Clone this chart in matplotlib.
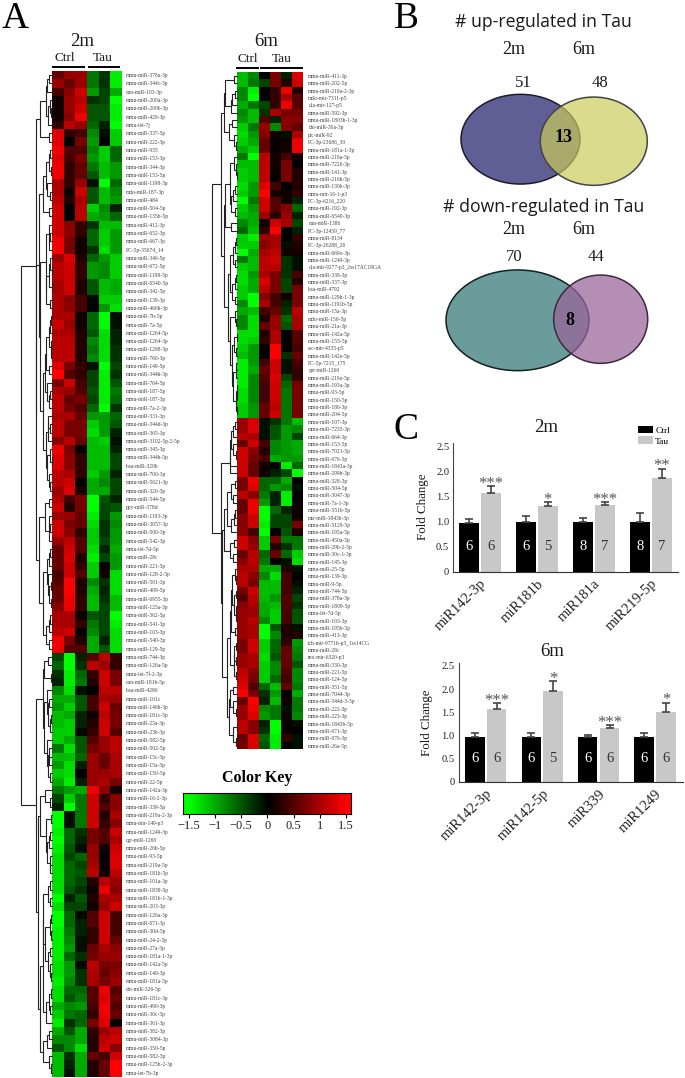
import numpy as np
import matplotlib
matplotlib.use('Agg')
import matplotlib.pyplot as plt
from matplotlib.colors import LinearSegmentedColormap, Normalize
from matplotlib.patches import Ellipse

plt.rcParams['font.family'] = ['Liberation Serif', 'DejaVu Serif']

W, H = 685, 1078

#-----------------------------------------------------------------------------
# heatmap 2m
labels_2m = ['mmu-miR-378a-3p','mmu-miR-344c-3p','cun-miR-103-3p','mmu-miR-200a-3p','mmu-miR-200b-3p','mmu-miR-429-3p','mmu-let-7j','mmu-miR-337-5p','mmu-miR-222-3p','mmu-miR-935',
 'mmu-miR-153-3p','mmu-miR-344-3p','mmu-miR-153-5p','mmu-miR-1198-3p','mdo-miR-187-3p','mmu-miR-484','mmu-miR-504-5p','mmu-miR-135b-5p','mmu-miR-412-3p','mmu-miR-652-3p',
 'mmu-miR-667-3p','PC-5p-35674_14','mmu-miR-346-5p','mmu-miR-672-5p','mmu-miR-1198-5p','mmu-miR-6540-5p','mmu-miR-342-5p','mmu-miR-139-3p','mmu-miR-466h-3p','mmu-miR-7b-5p',
 'mmu-miR-7a-5p','mmu-miR-1264-5p','mmu-miR-1264-3p','mmu-miR-1298-5p','mmu-miR-760-3p','mmu-miR-149-5p','mmu-miR-344h-3p','mmu-miR-764-5p','mmu-miR-187-5p','mmu-miR-187-3p',
 'mmu-miR-7a-2-3p','mmu-miR-331-3p','mmu-miR-344d-3p','mmu-miR-365-3p','mmu-miR-3102-5p.2-5p','mmu-miR-345-3p','mmu-miR-344b-5p','hsa-miR-320b','mmu-miR-700-3p','mmu-miR-5621-3p',
 'mmu-miR-320-3p','mmu-miR-544-5p','ppy-miR-378d','mmu-miR-1193-3p','mmu-miR-3057-3p','mmu-miR-500-3p','mmu-miR-542-3p','mmu-let-7d-5p','mmu-miR-28c','mmu-miR-221-5p',
 'mmu-miR-128-2-5p','mmu-miR-501-3p','mmu-miR-409-5p','mmu-miR-6955-3p','mmu-miR-125a-3p','mmu-miR-362-5p','mmu-miR-541-3p','mmu-miR-103-3p','mmu-miR-540-3p','mmu-miR-129-5p',
 'mmu-miR-744-3p','mmu-miR-126a-5p','mmu-let-7f-2-3p','cun-miR-181b-5p','hsa-miR-4286','mmu-miR-101c','mmu-miR-146b-3p','mmu-miR-181c-5p','mmu-miR-23a-3p','mmu-miR-23b-3p',
 'mmu-miR-582-5p','mmu-miR-502-5p','mmu-miR-15c-5p','mmu-miR-15a-5p','mmu-miR-150-5p','mmu-miR-22-5p','mmu-miR-142a-3p','mmu-miR-16-2-3p','mmu-miR-339-5p','mmu-miR-219a-2-3p',
 'mmu-mir-149-p3','mmu-miR-1249-3p','cgr-miR-1260','mmu-miR-26b-5p','mmu-miR-93-5p','mmu-miR-219a-5p','mmu-miR-181b-5p','mmu-miR-101a-3p','mmu-miR-1839-5p','mmu-miR-181b-1-3p',
 'mmu-miR-203-3p','mmu-miR-126a-3p','mmu-miR-671-3p','mmu-miR-30d-5p','mmu-miR-24-2-5p','mmu-miR-27a-5p','mmu-miR-181a-1-3p','mmu-miR-142a-5p','mmu-miR-140-3p','mmu-miR-181a-5p',
 'chi-miR-326-5p','mmu-miR-181c-3p','mmu-miR-490-3p','mmu-miR-30c-5p','mmu-miR-361-3p','mmu-miR-382-3p','mmu-miR-3084-3p','mmu-miR-350-5p','mmu-miR-582-3p','mmu-miR-125b-2-3p','mmu-let-7b-3p']

vals_2m = [
 [.6,.9,.9,-.7,-.3,-1.4],[.9,.6,.9,-.7,-.3,-1.4],[.4,.8,1.2,-.9,-.4,-1.0],[.1,.9,1.1,-.3,-.4,-1.5],[.1,.9,1.2,-.5,-.5,-1.4],
 [.1,.8,1.4,-.5,-.5,-1.4],[.3,1.1,.9,-.6,-.2,-1.5],[1.3,.3,.4,-.8,-.1,-1.2],[1.3,0,.7,-.9,0,-1.2],[1.4,.5,.5,-.8,-1.2,-.6],
 [1.3,.4,.7,-.9,-1.2,-.6],[1.4,.3,.6,-.7,-1.1,-.9],[1.4,.3,.6,-.5,-1.1,-.9],[1.0,.3,.9,-.1,-1.5,-.6],[1.0,.1,1.2,-.5,-1.1,-.8],
 [1.1,.2,1.0,-.5,-1.1,-.9],[1.2,0,1.1,-1.2,-.8,-.2],[1.2,0,1.1,-1.0,-.9,-.6],[1.2,.8,.3,-.3,-1.1,-1.1],[1.2,.8,.3,-.6,-1.2,-.9],
 [1.4,.7,.1,-.6,-1.2,-.9],[1.4,.7,.1,-.3,-1.3,-.9],[.9,1.3,.2,-.6,-.9,-1.2],[1.1,1.2,.3,-.9,-.8,-1.2],[1.1,1.2,.3,-.9,-.8,-1.2],
 [1.0,1.2,.2,-.5,-1.1,-1.0],[1.0,1.2,.2,-.5,-1.1,-1.0],[1.0,.8,.4,-.05,-1.2,-1.2],[1.0,.8,.4,0,-.9,-1.3],[1.0,1.0,.1,-.6,-1.5,-.1],
 [1.2,.9,.1,-.6,-1.5,-.1],[1.0,1.0,.2,-.5,-1.3,-.2],[1.1,1.1,.2,-.8,-1.3,-.2],[1.1,1.1,.2,-.7,-1.3,-.3],[1.1,1.1,.2,-.8,-1.3,-.3],
 [1.3,.7,.3,-.1,-1.5,-.4],[1.5,.5,.3,-.4,-1.4,-.3],[.7,1.2,.4,-.4,-1.4,-.5],[1.0,.9,.5,-.5,-1.4,-.7],[1.1,.6,.7,-.4,-1.4,-.6],
 [1.1,.7,.5,-.6,-1.5,-.3],[1.0,1.0,.6,-.9,-.9,-.6],[1.1,.7,.7,-1.2,-.9,-.5],[1.1,.7,.7,-1.3,-.9,-.2],[.8,1.1,.6,-1.1,-1.2,-.1],
 [1.4,.7,.05,-1.1,-1.1,-.2],[1.3,.8,.3,-1.1,-1.1,-.4],[1.3,.8,.3,-1.1,-1.1,-.4],[1.1,1.0,.3,-1.2,-.9,-.2],[1.1,1.2,0,-1.0,-.8,-.4],
 [.9,1.3,.2,-1.0,-1.0,-.4],[1.0,.4,.7,-1.5,-.5,-.2],[1.2,.2,.7,-1.5,-.4,-.5],[.9,.9,.6,-1.4,-.4,-.9],[1.2,.7,.6,-1.3,-.3,-.8],
 [1.2,.8,.3,-1.2,-.3,-.9],[.9,1.1,.5,-1.2,-.4,-.9],[.6,1.2,.5,-1.3,-.2,-1.0],[.6,1.3,.2,-1.4,-.4,-.9],[.6,1.2,.3,-1.2,.05,-.9],
 [.4,1.2,.5,-1.2,.1,-1.3],[.5,1.5,.2,-.8,-.3,-1.3],[.6,1.5,.2,-1.0,-.2,-1.3],[.6,1.4,.3,-1.1,-.3,-1.1],[.8,1.4,.3,-1.1,-.4,-1.1],
 [1.0,1.0,.1,-.5,-.4,-1.5],[1.0,1.0,.3,-.7,-.4,-1.4],[1.1,1.2,0,-.8,-.4,-1.3],[1.4,.7,.2,-1.0,-.2,-1.3],[1.4,.5,.5,-1.0,-.5,-1.3],
 [-.4,-1.5,-.2,.5,1.1,.3],[-.6,-1.5,-.3,1.1,.9,.3],[-.3,-1.4,-.6,.3,1.2,.7],[-.2,-1.4,-.7,.2,1.2,.7],[-.8,-1.3,-.1,0,1.1,1.1],
 [-1.0,-1.0,-.5,.4,1.0,.9],[-.9,-1.2,-.5,.4,1.2,.6],[-1.1,-1.0,-.2,.1,1.1,.7],[-1.1,-1.2,-.2,.2,1.2,.7],[-1.2,-1.2,-.05,.3,1.2,.5],
 [-1.2,-1.0,-.5,.5,.9,1.1],[-.7,-1.3,-.5,.7,.9,1.1],[-1.1,-1.1,-.6,.9,.6,1.0],[-.9,-1.3,-.2,.9,.6,1.0],[-1.2,-1.3,0,.9,.9,1.0],
 [-1.0,-1.4,-.2,.9,1.0,.7],[-.7,-.9,-1.0,1.4,.8,.1],[-.4,-1.2,-.7,1.2,.3,.8],[-.2,-1.5,-.7,1.2,.5,.8],[-1.5,-.1,-.7,1.2,.2,1.0],
 [-1.5,-.1,-.7,1.2,.3,.8],[-1.4,-.6,-.3,.7,.5,1.2],[-1.5,-.6,-.2,.7,.5,1.0],[-1.4,-.5,-.1,.9,.1,1.2],[-1.3,-.4,-.6,.9,.05,1.3],
 [-1.3,-.6,-.4,1.0,.05,1.3],[-1.3,-.6,-.5,1.1,.1,1.1],[-1.3,-.6,-.4,.2,1.1,.9],[-1.3,-.5,-.3,.1,1.4,.8],[-1.5,-.2,-.5,.2,1.0,1.0],
 [-1.3,-.4,-.4,.1,.9,1.2],[-1.5,-.6,-.05,.5,1.2,.4],[-1.5,-.6,-.2,.5,1.2,.4],[-1.4,-.7,-.2,.3,1.2,.4],[-1.4,-.8,-.1,.3,1.2,.6],
 [-1.4,-.9,-.1,.6,1.0,.8],[-1.4,-.6,-.3,.7,.9,.9],[-1.3,-.9,-.05,1.1,.7,.7],[-1.3,-.9,-.3,1.0,.6,.8],[-1.4,-.8,-.3,1.0,.7,.9],
 [-1.3,-.6,-.6,.5,1.4,.5],[-1.3,-.5,-.7,.5,1.3,.6],[-1.0,-.8,-.9,.4,1.4,.5],[-1.2,-.7,-.6,.3,1.4,.6],[-1.4,-.3,-.6,.7,1.3,.05],
 [-1.0,-.5,-1.0,.3,.9,1.1],[-.8,-.8,-1.0,.2,1.1,1.2],[-.5,-.8,-1.3,.2,1.2,.8],[-1.1,-.3,-1.0,.6,.4,1.2],[-1.1,-.2,-1.0,.2,.6,1.5],
 [-1.1,-.1,-1.0,.2,.6,1.5]]

#-----------------------------------------------------------------------------
# heatmap 6m
labels_6m = ['mmu-miR-411-3p','mmu-miR-202-5p','mmu-miR-219a-2-3p','mdo-mir-7311-p5','ola-mir-127-p5','mmu-miR-592-3p','mmu-miR-1803b-1-3p','chi-miR-30a-3p','ptc-miR-92','PC-3p-23686_30',
 'mmu-miR-181a-1-3p','mmu-miR-216a-5p','mmu-miR-7226-3p','mmu-miR-141-3p','mmu-miR-216b-5p','mmu-miR-130b-3p','mmu-mir-16-1-p3','PC-3p-6216_220','mmu-miR-192-3p','mmu-miR-6540-3p',
 'cun-miR-1386','PC-3p-12459_77','mmu-miR-8134','PC-3p-26288_26','mmu-miR-669o-3p','mmu-miR-1249-3p','ola-mir-9277-p3_2ss17AC18GA','mmu-miR-338-3p','mmu-miR-337-3p','hsa-miR-4792',
 'mmu-miR-129b-1-3p','mmu-miR-1191b-5p','mmu-miR-15a-3p','mdo-miR-150-5p','mmu-miR-21a-3p','mmu-miR-142a-5p','mmu-miR-155-5p','ssc-mir-4335-p5','mmu-miR-142e-5p','PC-5p-7215_175',
 'cpr-miR-1260','mmu-miR-219a-5p','mmu-miR-193a-3p','mmu-miR-93-5p','mmu-miR-150-5p','mmu-miR-186-3p','mmu-miR-204-5p','mmu-miR-107-3p','mmu-miR-7235-3p','mmu-miR-664-3p',
 'mmu-miR-153-5p','mmu-miR-7021-5p','mmu-miR-676-5p','mmu-miR-1843a-3p','mmu-miR-299b-3p','mmu-miR-328-3p','mmu-miR-504-5p','mmu-miR-3047-3p','mmu-miR-7a-1-3p','mmu-miR-551b-5p',
 'mir-miR-1843b-3p','mmu-miR-5129-5p','mmu-miR-195a-5p','mmu-miR-450a-5p','mmu-miR-29b-2-5p','mmu-miR-30c-1-3p','mmu-miR-145-3p','mmu-miR-25-5p','mmu-miR-139-3p','mmu-miR-9-5p',
 'mmu-miR-744-5p','mmu-miR-378a-3p','mmu-miR-1809-5p','mmu-let-7d-5p','mmu-miR-103-3p','mmu-miR-195b-5p','mmu-miR-413-3p','ich-mir-9771b-p5_1ss14CG','mmu-miR-28c','rno-mir-6320-p3',
 'mmu-miR-330-3p','mmu-miR-221-5p','mmu-miR-124-5p','mmu-miR-351-5p','mmu-miR-7044-3p','mmu-miR-344d-3-5p','mmu-miR-222-3p','mmu-miR-223-3p','mmu-miR-1843b-5p','mmu-miR-671-3p',
 'mmu-miR-676-3p','mmu-miR-26a-5p']

vals_6m = [
 [-1.1,-.8,0,.7,-.2,1.3],[-1.1,-.7,-.4,.7,.2,1.2],[-.8,-1.4,0,.3,1.4,.2],[-.8,-1.5,0,.3,1.0,.5],[-1.0,-.7,-.4,.3,1.4,.5],
 [-.8,-1.1,-.3,1.0,.7,.7],[-.9,-1.1,.5,-.2,.8,.8],[-1.2,-.7,.9,-.8,.8,.6],[-1.3,-.9,.8,.1,-.1,1.0],[-1.2,-1.0,.6,.05,.1,1.4],
 [-1.0,-1.2,.6,.05,.1,1.4],[-.7,-1.5,1.1,.1,.4,.1],[-1.1,-1.1,1.1,.1,.7,0],[-1.2,-1.1,1.1,.05,.7,.2],[-1.2,-1.1,1.1,.05,.7,.2],
 [-1.3,-.9,1.3,.4,0,.2],[-1.2,-.9,1.5,.1,.1,.3],[-1.5,-.7,1.2,.5,.1,-.2],[-1.2,-.9,1.2,.5,.8,-.6],[-1.1,-1.0,.9,.2,.9,-.2],
 [-.8,-1.0,.1,1.2,1.0,-.4],[-.6,-1.1,.3,1.5,0,-.2],[-1.2,-1.4,.9,1.0,0,.3],[-1.2,-1.2,.8,1.0,-.1,.2],[-1.5,-1.0,1.0,1.1,.1,.1],
 [-.7,-1.1,1.1,1.2,-.3,-.1],[-1.2,-1.1,1.1,1.1,-.3,-.1],[-1.3,-.9,1.0,.7,-.3,.4],[-1.3,-1.0,1.3,.7,-.4,.2],[-1.2,-1.0,1.1,.7,-.4,.7],
 [-1.2,-1.5,.8,.4,.1,.7],[-.8,-1.5,1.0,.4,-.2,.7],[-1.0,-1.1,.4,.6,-.3,1.1],[-.8,-1.3,.2,.9,-.6,1.0],[-.8,-1.3,.6,.9,-.5,1.0],
 [-1.3,-1.3,.2,1.0,0,.5],[-1.3,-1.2,.3,1.0,0,.5],[-1.2,-.9,0,1.5,0,.4],[-1.1,-.9,0,1.5,-.3,.6],[-1.4,-.9,.4,1.2,-.1,.4],
 [-1.4,-1.0,.6,1.2,-.1,.3],[-1.4,-.8,.5,1.3,-.4,.3],[-1.4,-.8,.4,1.2,-.6,.7],[-1.3,-.8,.4,1.2,-.7,.7],[-1.3,-.8,.4,1.2,-.7,.7],
 [-1.2,-.9,.6,1.1,-.7,.7],[-1.2,-.9,.6,1.2,-.7,.7],[.9,1.3,-.1,-.3,-.7,-1.1],[.9,1.3,-.1,-.5,-.9,-.8],[1.1,1.0,-.1,-.5,-.9,-.4],
 [.6,1.2,.4,-.8,-.9,-1.0],[1.2,.8,.2,-.8,-.9,-1.0],[1.2,.7,.4,-1.0,-.9,-.9],[1.2,.6,.1,0,-1.4,-.6],[1.2,.6,.1,-.2,-.4,-1.5],
 [.7,1.4,-.6,-.6,-1.0,0],[.7,1.3,-.6,-.9,-.8,-.1],[1.1,.8,-.7,-.2,-1.4,0],[.6,1.4,-.9,-.2,-1.4,.05],[.6,1.4,-1.5,-.6,-.2,.1],
 [.8,1.2,-1.5,-.4,-.4,.1],[.8,1.2,-1.4,-.4,-.4,.7],[.8,.4,-1.5,0,-.5,.2],[1.2,.8,-1.2,.7,-.7,-.7],[1.2,.9,-1.2,.2,-.3,-.7],
 [.6,1.1,-.6,.6,-.6,-1.2],[.8,1.1,-.7,0,-.1,-1.3],[1.0,1.0,-1.0,-1.0,.2,-.1],[1.1,.8,-.8,-1.3,.4,0],[1.1,.7,-1.1,-1.1,.4,-.1],
 [.7,1.2,-1.1,-1.1,.4,-.2],[.5,1.1,-1.1,-.9,.5,-.4],[.8,1.0,-1.0,-1.1,.5,-.3],[.9,.9,-1.0,-1.2,.4,-.5],[.9,1.1,-.8,-1.2,.4,-.5],
 [.9,1.0,-1.5,-.5,.2,-.1],[.9,1.0,-1.5,-.8,.2,.2],[.7,1.2,-1.2,-.6,.3,-.9],[.7,1.2,-1.2,-.6,.6,-.8],[.9,1.0,-1.3,-.5,.6,-.7],
 [.9,1.0,-1.2,-.8,.6,-.5],[1.1,.8,-1.2,-.8,.5,-.8],[1.2,.7,-1.2,-.6,.4,-.8],[1.3,.5,-.6,-1.1,.6,-.7],[1.5,.7,-.3,-.9,0,-1.0],
 [.6,1.5,-.2,-1.1,.1,-.7],[.9,1.4,-.8,-.7,-.1,-.7],[.9,1.3,-.9,-.7,.1,-.8],[1.1,.8,-.2,-1.5,.05,-.1],[1.1,.8,-.3,-1.5,.05,0],
 [.6,1.3,-.6,-1.4,.3,-.1],[.7,1.3,-.5,-1.4,0,-.1]]

#-----------------------------------------------------------------------------
# colour key
key_ticks = [-1.5, -1, -0.5, 0, 0.5, 1, 1.5]
key_labels = ['\u22121.5', '\u22121', '\u22120.5', '0', '0.5', '1', '1.5']

# venn counts
up_counts = [51, 48, 13]
down_counts = [70, 44, 8]

# bars
mir_2m = ['miR142-3p', 'miR181b', 'miR181a', 'miR219-5p']
ctrl_2m = [0.98, 0.99, 1.00, 1.00]
ctrl_err_2m = [0.08, 0.12, 0.08, 0.17]
tau_2m = [1.58, 1.31, 1.33, 1.87]
tau_err_2m = [0.13, 0.09, 0.06, 0.19]
n_ctrl_2m = [6, 6, 8, 8]
n_tau_2m = [6, 5, 7, 7]
stars_2m = ['***', '*', '***', '**']

mir_6m = ['miR142-3p', 'miR142-5p', 'miR339', 'miR1249']
ctrl_6m = [0.96, 0.96, 0.96, 0.96]
ctrl_err_6m = [0.087, 0.087, 0.043, 0.087]
tau_6m = [1.58, 1.96, 1.17, 1.50]
tau_err_6m = [0.115, 0.22, 0.045, 0.21]
n_ctrl_6m = [6, 6, 6, 6]
n_tau_6m = [6, 5, 6, 6]
stars_6m = ['***', '*', '***', '*']

#-----------------------------------------------------------------------------
cmap = LinearSegmentedColormap.from_list('gbr', ['#00ff00', '#000000', '#ff0000'])
norm = Normalize(-1.5, 1.5)

fig = plt.figure(figsize=(W/100, H/100), dpi=100)

def axpx(l, t, r, b):
    return fig.add_axes([l/W, 1-b/H, (r-l)/W, (b-t)/H])

def row_dist(m, a, b):
    # complete linkage between two row groups, 1 - correlation
    return (1 - np.corrcoef(m[a], m[b])[:len(a), len(a):]).max()

def dendro(ax, m):
    # merge neighbouring rows only, so the row order of the heatmap stays
    nodes = [{'rows': [i], 'y': i+0.5, 'h': 0.0} for i in range(len(m))]
    segs = []
    while len(nodes) > 1:
        d = [row_dist(m, nodes[i]['rows'], nodes[i+1]['rows']) for i in range(len(nodes)-1)]
        i = int(np.argmin(d))
        a, b = nodes[i], nodes[i+1]
        h = max(d[i], a['h'], b['h'])
        segs.append((a['h'], a['y'], b['h'], b['y'], h))
        nodes[i:i+2] = [{'rows': a['rows']+b['rows'], 'y': (a['y']+b['y'])/2, 'h': h}]
    top = nodes[0]['h']
    f = lambda v: -(v/top)**0.55
    for h1, y1, h2, y2, h in segs:
        ax.plot([f(h1), f(h), f(h), f(h2)], [y1, y1, y2, y2], color='#222222', lw=0.8,
                solid_joinstyle='miter', clip_on=False)
    ax.set_xlim(-1, 0)
    ax.set_ylim(len(m), 0)
    ax.axis('off')

def heat(m, labels, l, t, r, b, pad, root):
    m = np.array(m)
    ax = axpx(l, t, r, b)
    ax.imshow(m, cmap=cmap, norm=norm, aspect='auto', interpolation='nearest')
    ax.set_xticks([])
    ax.set_yticks(np.arange(len(labels)))
    ax.set_yticklabels(labels, fontsize=4.0, color='#444444')
    ax.yaxis.tick_right()
    ax.tick_params(axis='y', length=0, pad=pad)
    for s in ax.spines.values():
        s.set_visible(False)
    dendro(axpx(root, t, l, b), m)

heat(vals_2m, labels_2m, 51.7, 71, 121.7, 1076.7, 3, 21)
heat(vals_6m, labels_6m, 237.3, 72.3, 302.7, 749.3, 4, 211.7)

# colour key
cax = axpx(182.7, 793.3, 351, 814)
grad = np.linspace(-1.62, 1.6, 256)[None, :]
cax.imshow(grad, cmap=cmap, norm=norm, aspect='auto', extent=[-1.62, 1.6, 0, 1])
cax.set_yticks([])
cax.set_xticks(key_ticks)
cax.set_xticklabels(key_labels, fontsize=9, color='#222222')
cax.tick_params(axis='x', length=3, width=0.8, pad=1.5)

def bars(rect, xlim, ytop, names, c, ce, t, te, nc, nt, stars, star_off):
    ax = axpx(*rect)
    x = np.arange(len(names))
    b1 = ax.bar(x-0.193, c, 0.345, color='black')
    b2 = ax.bar(x+0.193, t, 0.345, color='#c8c8c8')
    ax.errorbar(x-0.193, c, yerr=[np.zeros(4), ce], fmt='none', ecolor='#444444', elinewidth=1.2, capsize=3, capthick=1.2)
    ax.errorbar(x+0.193, t, yerr=[np.zeros(4), te], fmt='none', ecolor='#444444', elinewidth=1.2, capsize=3, capthick=1.2)
    for i in x:
        ax.text(i-0.193, 0.5, str(nc[i]), color='white', fontsize=10.5, ha='center', va='center')
        ax.text(i+0.193, 0.5, str(nt[i]), color='#333333', fontsize=10.5, ha='center', va='center')
        ax.annotate(stars[i], (i+0.193, t[i]+te[i]), xytext=(0, star_off), textcoords='offset points',
                    ha='center', va='center', fontsize=12, color='#555555')
    ax.set_xlim(*xlim)
    ax.set_ylim(0, ytop)
    ax.set_yticks([0, 0.5, 1, 1.5, 2, 2.5])
    ax.set_yticklabels(['0', '0.5', '1.0', '1.5', '2.0', '2.5'], fontsize=7.6, color='#222222')
    ax.set_xticks(x)
    ax.set_xticklabels(names, rotation=45, ha='right', rotation_mode='anchor', fontsize=10.5, color='#222222')
    ax.tick_params(axis='both', length=0)
    ax.tick_params(axis='y', pad=3)
    ax.tick_params(axis='x', pad=4)
    ax.spines['top'].set_visible(False)
    ax.spines['right'].set_visible(False)
    ax.spines['left'].set_color('#444444')
    ax.spines['bottom'].set_color('#333333')
    return ax, b1, b2

ax1, b1, b2 = bars((453.3, 443, 678.3, 571.7), (-0.465, 3.48), 2.57, mir_2m, ctrl_2m, ctrl_err_2m, tau_2m, tau_err_2m,
                   n_ctrl_2m, n_tau_2m, stars_2m, 1.5)
bars((458.7, 662.7, 683.3, 781.7), (-0.479, 3.50), 2.57, mir_6m, ctrl_6m, ctrl_err_6m, tau_6m, tau_err_6m,
     n_ctrl_6m, n_tau_6m, stars_6m, 1.5)
ax1.legend([b1, b2], ['Ctrl', 'Tau'], loc='lower left', bbox_to_anchor=(637.7/W, 1-445.5/H), bbox_transform=fig.transFigure,
           frameon=False, fontsize=6.8, handlelength=1.65, handleheight=0.85, handletextpad=0.2, labelspacing=0.2, borderpad=0, borderaxespad=0)

# everything else sits on one page wide axes in pixels
pg = fig.add_axes([0, 0, 1, 1], zorder=5)
pg.set_xlim(0, W)
pg.set_ylim(H, 0)
pg.axis('off')
pg.patch.set_alpha(0)

def txt(x, y, s, size, **kw):
    kw.setdefault('color', '#1a1a1a')
    kw.setdefault('va', 'center')
    pg.text(x, y, s, fontsize=size, ha='center', **kw)

txt(15, 28, 'A', 27, color='black', va='baseline')
txt(406.7, 28, 'B', 27, color='black', va='baseline')
txt(406, 439, 'C', 27, color='black', va='baseline')

txt(81.7, 41.7, '2m', 13.5)
txt(65, 58.3, 'Ctrl', 9.5)
txt(103, 58.3, 'Tau', 9.5)
pg.plot([52.7, 84], [67.3, 67.3], color='black', lw=1.4)
pg.plot([88.7, 119.3], [67.3, 67.3], color='black', lw=1.4)

txt(265.7, 41, '6m', 13.5)
txt(247.7, 59, 'Ctrl', 9.5)
txt(281.7, 59, 'Tau', 9.5)
pg.plot([237.3, 258.3], [67.7, 67.7], color='black', lw=1.4)
pg.plot([261, 302.3], [67.7, 67.7], color='black', lw=1.4)

txt(257.3, 778.3, 'Color Key', 11.5, fontweight='bold', color='black')

txt(546, 427.7, '2m', 13.5)
txt(422.7, 506.7, 'Fold Change', 9.4, rotation=90)
txt(551.7, 651.7, '6m', 13.5)
txt(426.7, 723, 'Fold Change', 9.4, rotation=90)

# venn
for xy, w, h, fc, ec, a in [((520.5, 139.2), 119, 89.7, '#5f5f96', '#1c1c2c', 1),
                            ((593.8, 141.2), 107, 88.3, '#cccc5b', '#444444', 0.69),
                            ((517.5, 320.3), 143, 100.7, '#6a9c9c', '#142020', 1),
                            ((600.7, 319.2), 94, 88.3, '#986599', '#3c2a40', 0.73)]:
    pg.add_patch(Ellipse(xy, w, h, facecolor=fc, edgecolor='none', alpha=a))
    pg.add_patch(Ellipse(xy, w, h, facecolor='none', edgecolor=ec, lw=1.1))

sans = ['Open Sans', 'DejaVu Sans']
txt(543.3, 21.7, '# up-regulated in Tau', 12.7, family=sans)
txt(513.3, 50, '2m', 13)
txt(583.3, 50, '6m', 13)
txt(523.7, 82.7, str(up_counts[0]), 12)
txt(600, 82.7, str(up_counts[1]), 12)
txt(563.3, 137.7, str(up_counts[2]), 13, fontweight='bold', color='black')

txt(543.3, 207.3, '# down-regulated in Tau', 12.7, family=sans)
txt(513.3, 230, '2m', 13)
txt(583.3, 230, '6m', 13)
txt(514, 257.3, str(down_counts[0]), 12)
txt(596, 257.3, str(down_counts[1]), 12)
txt(570, 320.7, str(down_counts[2]), 13, fontweight='bold', color='black')

fig.savefig('out.png', dpi=100)
